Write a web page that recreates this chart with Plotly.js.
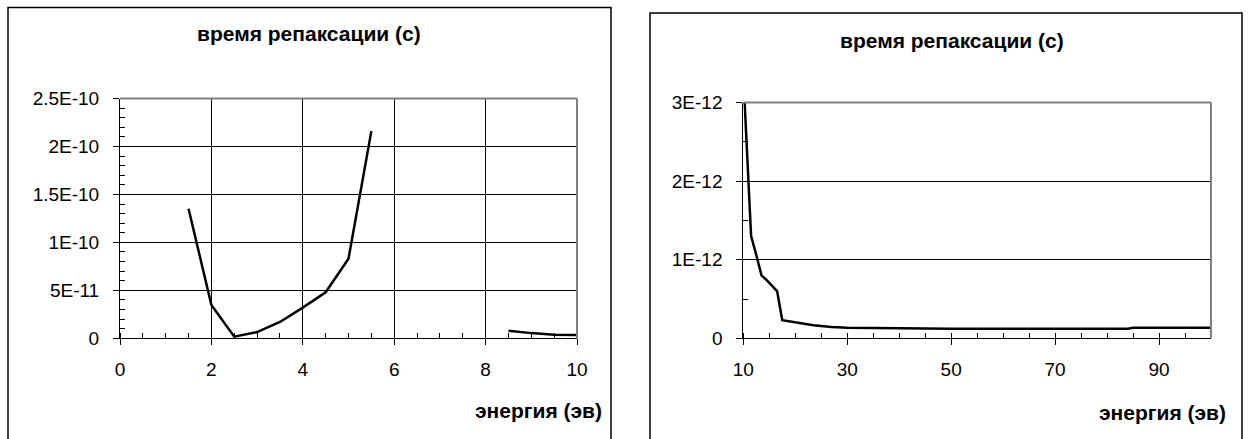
<!DOCTYPE html>
<html>
<head>
<meta charset="utf-8">
<script src="https://cdn.plot.ly/plotly-3.0.1.min.js"></script>
<style>
html,body{margin:0;padding:0;background:#fff;}
#chart{width:1251px;height:439px;}
</style>
</head>
<body>
<div id="chart"></div>
<script>
// ---- data ----
const chartTitle = "время репаксации (с)";
const xAxisTitle = "энергия (эв)";

const leftX = [1.5, 2, 2.5, 3, 3.5, 4, 4.5, 5, 5.5, 6, 6.5, 7, 7.5, 8, 8.5, 9, 9.5, 10];
const leftY = [1.35e-10, 3.47e-11, 1.7e-12, 6.5e-12, 1.7e-11, 3.2e-11, 4.8e-11, 8.3e-11, 2.16e-10,
               null, null, null, null, null, 7.9e-12, 5.4e-12, 3.7e-12, 3.4e-12];

const rightX = [10, 11.5, 12.5, 13.5, 14.5, 16.5, 17.5, 20, 23.5, 27, 30, 35, 40, 50, 60, 70, 84, 85, 90, 100];
const rightY = [3.35e-12, 1.3e-12, 1.06e-12, 0.8e-12, 0.74e-12, 0.6e-12, 0.23e-12, 0.2e-12, 0.165e-12,
                0.145e-12, 0.135e-12, 0.13e-12, 0.125e-12, 0.123e-12, 0.122e-12, 0.122e-12, 0.122e-12,
                0.135e-12, 0.135e-12, 0.135e-12];

const leftYTickVals = [0, 5e-11, 1e-10, 1.5e-10, 2e-10, 2.5e-10];
const leftYTickText = ["0", "5E-11", "1E-10", "1.5E-10", "2E-10", "2.5E-10"];
const leftXTickVals = [0, 2, 4, 6, 8, 10];
const leftXTickText = ["0", "2", "4", "6", "8", "10"];

const rightYTickVals = [0, 1e-12, 2e-12, 3e-12];
const rightYTickText = ["0", "1E-12", "2E-12", "3E-12"];
const rightXTickVals = [10, 30, 50, 70, 90];
const rightXTickText = ["10", "30", "50", "70", "90"];

// ---- layout helpers ----
const W = 1251, H = 439;
const fx = p => p / W;
const fy = p => 1 - p / H;
const FONT = "Liberation Sans, Arial, sans-serif";
const tickFont = {family: FONT, size: 19, color: "#000"};
const titleFont = {family: FONT, size: 21, color: "#000"};

function axisBase() {
  return {
    showline: true, linecolor: "#000", linewidth: 1,
    ticks: "outside", ticklen: 6, tickwidth: 1, tickcolor: "#000",
    tickfont: tickFont, zeroline: false, fixedrange: true,
    tickmode: "array"
  };
}

const traces = [
  {x: leftX, y: leftY, xaxis: "x", yaxis: "y", type: "scatter", mode: "lines",
   line: {color: "#000", width: 2.5}, connectgaps: false, hoverinfo: "skip"},
  {x: rightX, y: rightY, xaxis: "x2", yaxis: "y2", type: "scatter", mode: "lines",
   line: {color: "#000", width: 2.5}, hoverinfo: "skip"}
];

const layout = {
  width: W, height: H,
  margin: {l: 0, r: 0, t: 0, b: 0},
  paper_bgcolor: "#fff", plot_bgcolor: "#fff",
  showlegend: false,
  xaxis: Object.assign(axisBase(), {
    domain: [fx(120), fx(577)], range: [0, 10], anchor: "y",
    tickvals: leftXTickVals, ticktext: leftXTickText,
    showgrid: true, gridcolor: "#000", gridwidth: 1,
    ticklabelstandoff: 8,
    minor: {tickmode: "linear", tick0: 0, dtick: 0.5, ticks: "inside", ticklen: 5, tickcolor: "#000", showgrid: false}
  }),
  yaxis: Object.assign(axisBase(), {
    domain: [fy(338.3), fy(98.5)], range: [0, 2.5e-10], anchor: "x",
    tickvals: leftYTickVals, ticktext: leftYTickText,
    showgrid: true, gridcolor: "#000", gridwidth: 1,
    ticklabelstandoff: 10,
    minor: {tickmode: "linear", tick0: 0, dtick: 1e-11, ticks: "inside", ticklen: 5, tickcolor: "#000", showgrid: false}
  }),
  xaxis2: Object.assign(axisBase(), {
    domain: [fx(743.3), fx(1211)], range: [10, 100], anchor: "y2",
    tickvals: rightXTickVals, ticktext: rightXTickText,
    showgrid: false,
    ticklabelstandoff: 8,
    minor: {tickmode: "linear", tick0: 10, dtick: 5, ticks: "inside", ticklen: 5, tickcolor: "#000", showgrid: false}
  }),
  yaxis2: Object.assign(axisBase(), {
    domain: [fy(338.3), fy(102.5)], range: [0, 3e-12], anchor: "x2",
    tickvals: rightYTickVals, ticktext: rightYTickText,
    showgrid: true, gridcolor: "#000", gridwidth: 1,
    ticklabelstandoff: 10,
    minor: {tickmode: "linear", tick0: 0, dtick: 5e-13, ticks: "inside", ticklen: 5, tickcolor: "#000", showgrid: false}
  }),
  shapes: [
    // grey plot frame (top + right)
    {type: "line", xref: "x domain", yref: "y domain", x0: 0, x1: 1, y0: 1, y1: 1, line: {color: "#808080", width: 2}},
    {type: "line", xref: "x domain", yref: "y domain", x0: 1, x1: 1, y0: 0, y1: 1, line: {color: "#808080", width: 2}},
    {type: "line", xref: "x2 domain", yref: "y2 domain", x0: 0, x1: 1, y0: 1, y1: 1, line: {color: "#808080", width: 2}},
    {type: "line", xref: "x2 domain", yref: "y2 domain", x0: 1, x1: 1, y0: 0, y1: 1, line: {color: "#808080", width: 2}},
    // outer chart boxes
    {type: "rect", xref: "paper", yref: "paper", x0: fx(8), x1: fx(611), y0: -0.05, y1: fy(7.5), line: {color: "#000", width: 1.5}, fillcolor: "rgba(0,0,0,0)", layer: "below"},
    {type: "rect", xref: "paper", yref: "paper", x0: fx(650), x1: fx(1242), y0: -0.05, y1: fy(13), line: {color: "#000", width: 1.5}, fillcolor: "rgba(0,0,0,0)", layer: "below"}
  ],
  annotations: [
    {text: "<b>" + chartTitle + "</b>", xref: "paper", yref: "paper", x: fx(309), y: fy(33), xanchor: "center", yanchor: "middle", showarrow: false, font: titleFont},
    {text: "<b>" + chartTitle + "</b>", xref: "paper", yref: "paper", x: fx(952), y: fy(40), xanchor: "center", yanchor: "middle", showarrow: false, font: titleFont},
    {text: "<b>" + xAxisTitle + "</b>", xref: "paper", yref: "paper", x: fx(604), y: fy(410), xanchor: "right", yanchor: "middle", showarrow: false, font: titleFont},
    {text: "<b>" + xAxisTitle + "</b>", xref: "paper", yref: "paper", x: fx(1228), y: fy(412), xanchor: "right", yanchor: "middle", showarrow: false, font: titleFont}
  ]
};

Plotly.newPlot("chart", traces, layout, {displayModeBar: false, staticPlot: true});
</script>
</body>
</html>
